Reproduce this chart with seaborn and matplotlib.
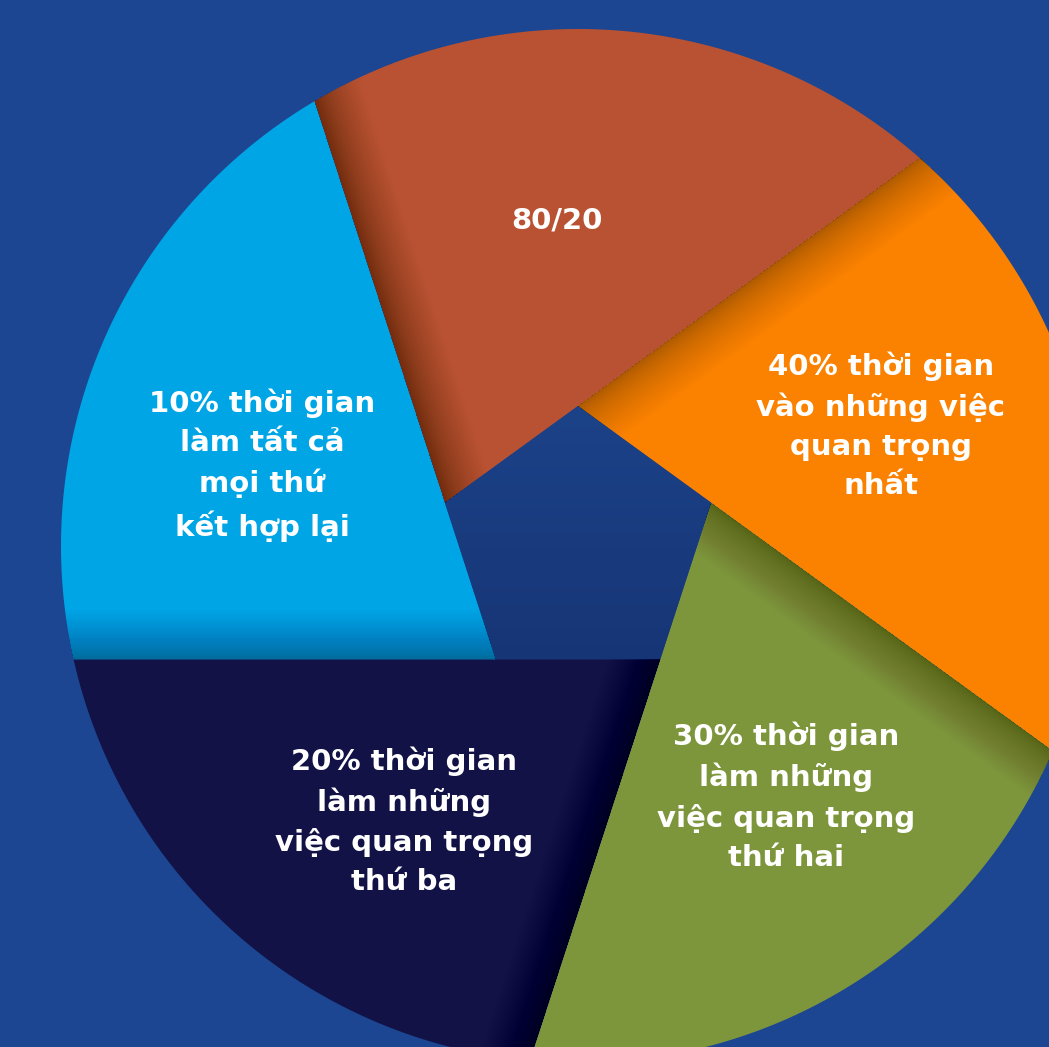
import numpy as np
import matplotlib
matplotlib.use("Agg")
import matplotlib.pyplot as plt
from matplotlib.patches import Polygon
import seaborn as sns

# slices, clockwise from the top
slice_labels = [
    "80/20",
    "40% thời gian\nvào những việc\nquan trọng\nnhất",
    "30% thời gian\nlàm những\nviệc quan trọng\nthứ hai",
    "20% thời gian\nlàm những\nviệc quan trọng\nthứ ba",
    "10% thời gian\nlàm tất cả\nmọi thứ\nkết hợp lại",
]
# every blade takes the same share of the circle in the picture
slice_shares = [20, 20, 20, 20, 20]
slice_colors = ["#b95232", "#fa8200", "#7d963c", "#121246", "#00a5e6"]

sns.set_theme(style="white")
plt.rcParams["font.family"] = ["DejaVu Sans"]
palette = sns.color_palette(slice_colors)

bg = "#1c4691"
R = 517.0        # outer circle radius (px)
r_hole = 140.0   # pentagon hole circumradius
start = 162.0    # angle of the first blade's inner corner

fig = plt.figure(figsize=(10.49, 10.47), dpi=100, facecolor=bg)
ax = fig.add_axes([0, 0, 1, 1])
ax.set_facecolor(bg)
ax.set_xlim(-578, 471)
ax.set_ylim(-501, 546)
ax.set_aspect("equal")
ax.axis("off")


def vtx(a):
    t = np.radians(a)
    return np.array([r_hole * np.cos(t), r_hole * np.sin(t)])


def hit(p, d):
    d = d / np.linalg.norm(d)
    b = p @ d
    c = p @ p - R * R
    return p + (-b + np.sqrt(b * b - c)) * d


n = len(slice_shares)
bounds = start - np.concatenate([[0], np.cumsum(slice_shares)]) * 3.6

# ray k leaves the pentagon corner at bounds[k], continuing the previous side
ray_start = [vtx(bounds[k]) for k in range(n)]
ray_end = []
for k in range(n):
    prev = bounds[k - 1] if k > 0 else bounds[n - 1] + 360
    ray_end.append(hit(vtx(bounds[k]), vtx(bounds[k]) - vtx(prev)))

for i in range(n):
    k_hi, k_lo = i, (i + 1) % n
    p_hi, p_lo = ray_end[k_hi], ray_end[k_lo]
    a0 = np.degrees(np.arctan2(p_lo[1], p_lo[0]))
    a1 = np.degrees(np.arctan2(p_hi[1], p_hi[0]))
    while a1 < a0:
        a1 += 360
    arc = np.radians(np.linspace(a0, a1, 120))
    pts = [ray_start[k_hi], ray_start[k_lo]]
    pts += [np.array([R * np.cos(t), R * np.sin(t)]) for t in arc]
    pts = np.array(pts)
    blade = Polygon(pts, closed=True, facecolor=palette[i], edgecolor="none", zorder=2)
    ax.add_patch(blade)

    # soft shadow cast by the neighbouring blade along the edge it overlaps
    A, B = ray_start[k_hi], p_hi
    e = (B - A) / np.linalg.norm(B - A)
    nrm = np.array([-e[1], e[0]])
    if (pts.mean(axis=0) - A) @ nrm < 0:
        nrm = -nrm
    for w in 50 * np.linspace(0.05, 1, 40) ** 1.6:
        band = np.array([A - e * 60, B + e * 60, B + e * 60 + nrm * w, A - e * 60 + nrm * w])
        sh = Polygon(band, closed=True, facecolor="black", alpha=0.0065,
                     edgecolor="none", zorder=3)
        ax.add_patch(sh)
        sh.set_clip_path(blade)

    # label
    mid = np.radians((a0 + a1) / 2 + 9)
    ax.text(0.63 * R * np.cos(mid), 0.63 * R * np.sin(mid), slice_labels[i],
            ha="center", va="center", color="white", fontsize=21,
            fontweight="bold", linespacing=1.5, zorder=5)

# centre hole with a soft vertical gradient
hole = Polygon(np.array([vtx(a) for a in bounds[:n]]), closed=True,
               facecolor="none", edgecolor="none")
ax.add_patch(hole)
grad = np.linspace(0, 1, 256).reshape(-1, 1)
top_c = np.array([28, 66, 136]) / 255
bot_c = np.array([22, 52, 116]) / 255
img = top_c + (bot_c - top_c) * grad[..., None]
im = ax.imshow(img, extent=(-r_hole, r_hole, -r_hole, r_hole), origin="upper",
               aspect="auto", zorder=2.5)
im.set_clip_path(hole)

fig.savefig("out.png", dpi=100, facecolor=bg)
